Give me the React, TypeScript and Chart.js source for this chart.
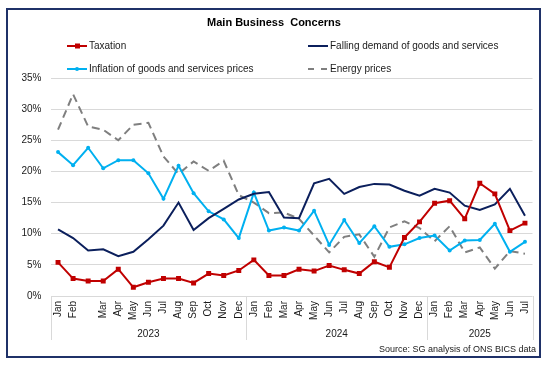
import React, { useEffect, useRef } from "react";
import { Chart, registerables } from "chart.js";

Chart.register(...registerables);

const categories = [
  "Jan", "Feb", "", "Mar", "Apr", "May", "Jun", "Jul", "Aug", "Sep", "Oct", "Nov", "Dec",
  "Jan", "Feb", "Mar", "Apr", "May", "Jun", "Jul", "Aug", "Sep", "Oct", "Nov", "Dec",
  "Jan", "Feb", "Mar", "Apr", "May", "Jun", "Jul",
];
const yearLabels = ["2023", "2024", "2025"];
const yearGroupSizes = [13, 12, 7];

const taxation = [
  5.4, 2.8, 2.4, 2.4, 4.3, 1.4, 2.2, 2.8, 2.8, 2.1, 3.6, 3.3, 4.1,
  5.8, 3.3, 3.3, 4.3, 4.0, 4.9, 4.2, 3.6, 5.5, 4.6, 9.4, 11.9,
  14.9, 15.3, 12.4, 18.1, 16.4, 10.5, 11.7,
];
const fallingDemand = [
  10.7, 9.3, 7.3, 7.5, 6.4, 7.1, 9.1, 11.3, 15.0, 10.6, 12.5, 14.0, 15.5,
  16.4, 16.7, 12.6, 12.5, 18.1, 18.8, 16.4, 17.5, 18.0, 17.9, 16.9, 16.1,
  17.2, 16.6, 14.5, 13.8, 14.7, 17.2, 12.9,
];
const inflation = [
  23.1, 21.0, 23.8, 20.5, 21.8, 21.8, 19.7, 15.6, 20.9, 16.5, 13.6, 12.3, 9.3,
  16.6, 10.5, 11.0, 10.5, 13.7, 8.2, 12.2, 8.5, 11.2, 7.9, 8.3, 9.3,
  9.7, 7.3, 8.9, 9.0, 11.6, 7.1, 8.7,
];
const energy = [
  26.7, 32.4, 27.2, 26.7, 25.0, 27.5, 27.8, 22.4, 19.6, 21.6, 20.1, 21.7, 16.2,
  15.0, 13.3, 13.4, 12.4, 9.7, 7.0, 9.5, 9.9, 6.3, 11.0, 12.0, 10.9,
  8.8, 11.2, 7.0, 7.8, 4.4, 7.2, 6.8,
];
const yTicksMax = 35;
const yTicksStep = 5;

const titleText = "Main Business  Concerns";
const sourceText = "Source: SG analysis of ONS BICS data";

const RED = "#C00000";
const NAVY = "#0B1F5C";
const BLUE = "#00B0F0";
const GRAY = "#7F7F7F";
const FONT = '"Liberation Sans", Arial, sans-serif';

export default function App() {
  const ref = useRef<HTMLCanvasElement | null>(null);

  useEffect(() => {
    document.body.style.margin = "0";
    const canvas = ref.current;
    if (!canvas) return;

    const decorPlugin = {
      id: "decor",
      beforeDraw(chart: any) {
        const ctx = chart.ctx;
        ctx.save();
        ctx.fillStyle = "#ffffff";
        ctx.fillRect(0, 0, chart.width, chart.height);
        ctx.restore();
      },
      afterDraw(chart: any) {
        const ctx = chart.ctx;
        const area = chart.chartArea;
        const xs = chart.scales.x;
        ctx.save();

        // border
        ctx.strokeStyle = "#1F3168";
        ctx.lineWidth = 2;
        ctx.strokeRect(7, 9, 533, 348);

        // title
        ctx.fillStyle = "#000000";
        ctx.font = "bold 11px " + FONT;
        ctx.textAlign = "center";
        ctx.textBaseline = "middle";
        ctx.fillText(titleText, 274, 23);

        // legend
        const items = [
          { label: chart.data.datasets[0].label, color: RED, x: 67, y: 46, kind: "rect" },
          { label: chart.data.datasets[1].label, color: NAVY, x: 308, y: 46, kind: "line" },
          { label: chart.data.datasets[2].label, color: BLUE, x: 67, y: 69, kind: "dot" },
          { label: chart.data.datasets[3].label, color: GRAY, x: 308, y: 69, kind: "dash" },
        ];
        ctx.font = "10px " + FONT;
        ctx.textAlign = "left";
        items.forEach((it) => {
          ctx.strokeStyle = it.color;
          ctx.fillStyle = it.color;
          ctx.lineWidth = 2;
          ctx.setLineDash(it.kind === "dash" ? [6, 7] : []);
          ctx.beginPath();
          ctx.moveTo(it.x, it.y);
          ctx.lineTo(it.x + 20, it.y);
          ctx.stroke();
          ctx.setLineDash([]);
          if (it.kind === "rect") ctx.fillRect(it.x + 8, it.y - 2.5, 5, 5);
          if (it.kind === "dot") {
            ctx.beginPath();
            ctx.arc(it.x + 10, it.y, 2, 0, Math.PI * 2);
            ctx.fill();
          }
          ctx.fillStyle = "#1a1a1a";
          ctx.fillText(it.label, it.x + 22, it.y + 0.5);
        });

        // group separators and year labels
        const step = (xs.getPixelForValue(1) - xs.getPixelForValue(0));
        let start = 0;
        ctx.strokeStyle = "#D9D9D9";
        ctx.lineWidth = 1;
        const bounds: number[] = [];
        yearGroupSizes.forEach((n) => {
          bounds.push(xs.getPixelForValue(start) - step / 2);
          start += n;
        });
        bounds.push(xs.getPixelForValue(start - 1) + step / 2);
        bounds.forEach((bx) => {
          const px = Math.round(bx) + 0.5;
          ctx.beginPath();
          ctx.moveTo(px, area.bottom);
          ctx.lineTo(px, 340);
          ctx.stroke();
        });
        ctx.fillStyle = "#1a1a1a";
        ctx.font = "10px " + FONT;
        ctx.textAlign = "center";
        yearLabels.forEach((yl, i) => {
          ctx.fillText(yl, (bounds[i] + bounds[i + 1]) / 2, 334);
        });

        // source
        ctx.font = "9px " + FONT;
        ctx.textAlign = "right";
        ctx.fillText(sourceText, 536, 350);

        ctx.restore();
      },
    };

    const chart = new Chart(canvas, {
      type: "line",
      data: {
        labels: categories,
        datasets: [
          {
            label: "Taxation",
            data: taxation,
            borderColor: RED,
            backgroundColor: RED,
            borderWidth: 2,
            pointStyle: "rect",
            pointRadius: 3.5,
            pointBorderWidth: 0,
            tension: 0,
          },
          {
            label: "Falling demand of goods and services",
            data: fallingDemand,
            borderColor: NAVY,
            backgroundColor: NAVY,
            borderWidth: 2,
            pointRadius: 0,
            tension: 0,
          },
          {
            label: "Inflation of goods and services prices",
            data: inflation,
            borderColor: BLUE,
            backgroundColor: BLUE,
            borderWidth: 2,
            pointRadius: 2,
            pointBorderWidth: 0,
            tension: 0,
          },
          {
            label: "Energy prices",
            data: energy,
            borderColor: GRAY,
            backgroundColor: GRAY,
            borderWidth: 2,
            borderDash: [8, 5],
            pointRadius: 0,
            tension: 0,
          },
        ],
      },
      options: {
        animation: false,
        responsive: false,
        devicePixelRatio: 1,
        layout: { padding: { left: 12.5, right: 17.5, top: 78, bottom: 0 } },
        plugins: {
          legend: { display: false },
          title: { display: false },
          tooltip: { enabled: false },
        },
        scales: {
          x: {
            type: "category",
            offset: true,
            grid: { display: false, drawTicks: false },
            border: { display: false },
            ticks: {
              autoSkip: false,
              maxRotation: 90,
              minRotation: 90,
              padding: 5,
              color: "#1a1a1a",
              font: { family: FONT, size: 10 },
            },
            afterFit: (s: any) => {
              s.height = 70;
            },
          },
          y: {
            min: 0,
            max: yTicksMax,
            grid: { color: "#D9D9D9", lineWidth: 1, drawTicks: false },
            border: { display: false },
            ticks: {
              stepSize: yTicksStep,
              padding: 9,
              color: "#1a1a1a",
              font: { family: FONT, size: 10 },
              callback: (v: any) => v + "%",
            },
            afterFit: (s: any) => {
              s.width = 38;
            },
          },
        },
      },
      plugins: [decorPlugin],
    });

    return () => chart.destroy();
  }, []);

  return <canvas ref={ref} width={550} height={366} style={{ display: "block" }} />;
}
